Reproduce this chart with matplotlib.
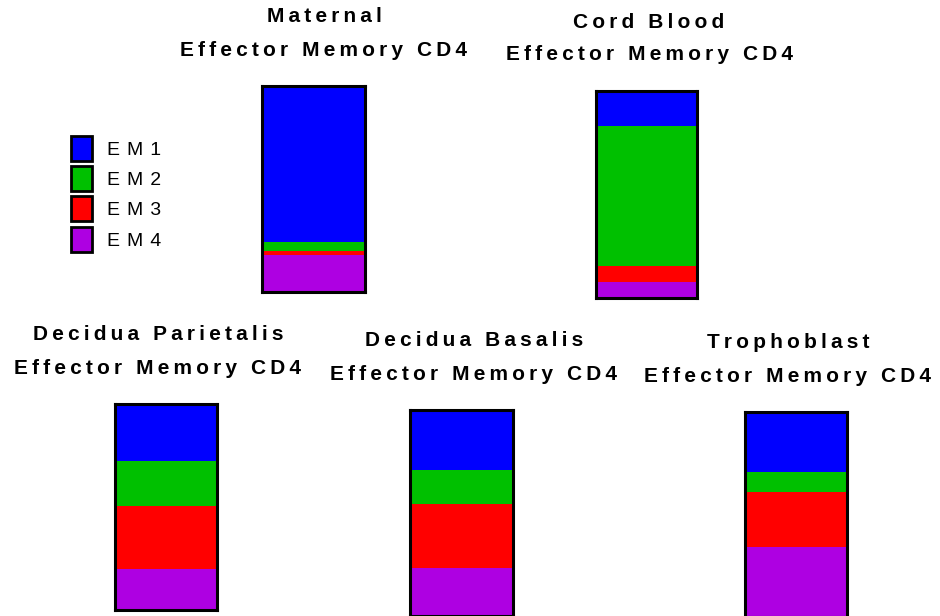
import matplotlib
matplotlib.use("Agg")
import matplotlib.pyplot as plt
from matplotlib.patches import Patch

# percent of effector memory CD4 cells in each subset (top to bottom: EM1..EM4)
subsets = ["EM1", "EM2", "EM3", "EM4"]
colors = ["#0000FF", "#00C000", "#FF0000", "#AE00E2"]
tissues = ["Maternal", "Cord Blood", "Decidua Parietalis", "Decidua Basalis", "Trophoblast"]
em1 = [75.6, 17.0, 27.7, 29.3, 29.4]
em2 = [4.5, 67.3, 21.8, 16.3, 9.8]
em3 = [2.0, 8.0, 30.6, 31.1, 26.5]
em4 = [17.9, 7.7, 19.9, 23.3, 34.3]

# axes boxes in pixels (left, top, right, bottom) and title centre x
W, H = 940, 616
boxes = [(262, 86, 365, 292), (596, 91, 697, 298),
         (115, 404, 217, 610), (410, 410, 513, 616), (745, 412, 847, 617)]
title_x = [324, 649, 158, 474, 788]


def spaced(s, gap="\u2009", word="\u2009 \u2009"):
    return word.join(gap.join(w) for w in s.split())


plt.rcParams["font.family"] = ["Liberation Sans", "DejaVu Sans"]
fig = plt.figure(figsize=(W / 100, H / 100), dpi=100)

for i, name in enumerate(tissues):
    l, t, r, b = boxes[i]
    ax = fig.add_axes([l / W, 1 - b / H, (r - l) / W, (b - t) / H])
    vals = [em1[i], em2[i], em3[i], em4[i]]
    bottom = 0
    # stack from the bottom: EM4 first
    for v, c in zip(vals[::-1], colors[::-1]):
        ax.bar(0, v, bottom=bottom, width=1, color=c, linewidth=0)
        bottom += v
    ax.set_xlim(-0.5, 0.5)
    ax.set_ylim(0, 100)
    ax.set_xticks([])
    ax.set_yticks([])
    for sp in ax.spines.values():
        sp.set_linewidth(2.2)
        sp.set_color("black")
    # two-line title above the bar
    fig.text(title_x[i] / W, 1 - (t - 69) / H, spaced(name), ha="center", va="center",
             fontsize=15, fontweight="bold")
    fig.text(title_x[i] / W, 1 - (t - 36) / H, spaced("Effector Memory CD4"), ha="center",
             va="center", fontsize=15, fontweight="bold")

handles = [Patch(facecolor=c, edgecolor="black", linewidth=2) for c in colors]
fig.legend(handles, [spaced(s, gap=" \u200a") for s in subsets], loc="upper left",
           bbox_to_anchor=(71 / W, 1 - 136 / H), frameon=False, fontsize=14,
           handlelength=1.1, handleheight=1.6, labelspacing=0.27,
           handletextpad=0.75, borderpad=0, borderaxespad=0)

fig.savefig("out.png", dpi=100, facecolor="white")
